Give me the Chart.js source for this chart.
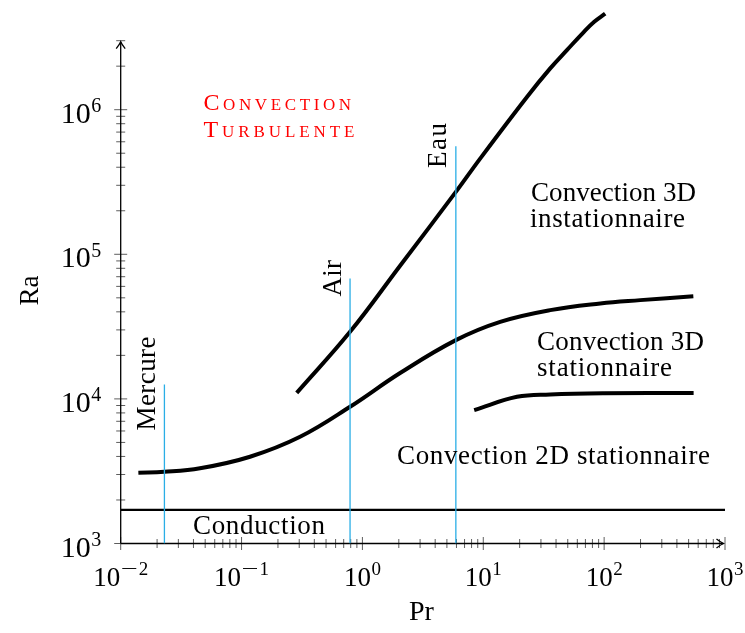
<!DOCTYPE html>
<html>
<head>
<meta charset="utf-8">
<script src="https://cdn.jsdelivr.net/npm/chart.js@4.4.1/dist/chart.umd.min.js"></script>
<style>
  html, body { margin: 0; padding: 0; background: #fff; }
  #wrap { width: 745px; height: 633px; }
</style>
</head>
<body>
<div id="wrap"><canvas id="c" width="745" height="633"></canvas></div>
<script>
// Axis ranges (Prandtl number on x, Rayleigh number on y)
const prRange = [0.01, 1000];
const raRange = [1000, 3e6];

// Tick label exponents (10^n)
const xTickExps = [-2, -1, 0, 1, 2, 3];
const yTickExps = [3, 4, 5, 6];

// Conduction threshold
const conductionRa = 1708;

// Reference fluids: vertical markers
const fluidNames = ['Mercure', 'Air', 'Eau'];
const fluidPr = [0.023, 0.79, 5.93];
const fluidTopRa = [12600, 68100, 558000];

// Boundary: conduction -> 3D stationary convection
const onsetPr = [0.014, 0.023, 0.0453, 0.1175, 0.305, 0.79, 2.05, 5.93, 13.8, 35.8, 92.9, 199, 547];
const onsetRa = [3090, 3130, 3310, 3980, 5470, 8820, 15100, 25500, 34100, 41100, 45700, 48200, 51300];

// Boundary: stationary -> turbulent convection
const turbPr = [0.286, 0.79, 2.05, 5.93, 9.42, 22.9, 35.8, 49.2, 67.5, 82.8, 102];
const turbRa = [11000, 29100, 83400, 270000, 459000, 1220000, 1930000, 2580000, 3430000, 4050000, 4610000];

// Boundary: 2D stationary -> 3D stationary convection
const rollsPr = [8.41, 19, 35.8, 100, 550];
const rollsRa = [8370, 10340, 10740, 10950, 11000];

const SERIF = '"Liberation Serif", "DejaVu Serif", serif';
const BLUE = '#2aaee6';

const toPoints = (xs, ys) => xs.map((v, i) => ({ x: v, y: ys[i] }));

const datasets = [];
fluidNames.forEach((name, i) => {
  datasets.push({
    label: name,
    data: [{ x: fluidPr[i], y: raRange[0] }, { x: fluidPr[i], y: fluidTopRa[i] }],
    borderColor: BLUE, borderWidth: 1.3, showLine: true, pointRadius: 0, order: 0
  });
});
datasets.push({
  label: 'Conduction',
  data: [{ x: prRange[0], y: conductionRa }, { x: prRange[1], y: conductionRa }],
  borderColor: '#000', borderWidth: 2.2, showLine: true, pointRadius: 0, order: 1
});
[[onsetPr, onsetRa], [turbPr, turbRa], [rollsPr, rollsRa]].forEach(([xs, ys]) => {
  datasets.push({
    data: toPoints(xs, ys),
    borderColor: '#000', borderWidth: 4, showLine: true, pointRadius: 0,
    tension: 0.4, clip: false, order: 1
  });
});

// Draws "10" with a raised exponent
function drawPower(ctx, exp, x, y, o) {
  const baseFont = o.base + 'px ' + SERIF;
  const supFont = o.sup + 'px ' + SERIF;
  ctx.font = baseFont;
  const wBase = ctx.measureText('10').width;
  ctx.font = supFont;
  const digits = String(Math.abs(exp));
  const wDig = ctx.measureText(digits).width;
  const minusW = exp < 0 ? o.minusW : 0;
  const gap = exp < 0 ? 1.5 : 0.5;
  const total = wBase + minusW + gap + wDig;
  let sx = o.align === 'right' ? x - total : x - total / 2;
  ctx.textAlign = 'left';
  ctx.textBaseline = 'alphabetic';
  ctx.font = baseFont;
  ctx.fillText('10', sx, y);
  sx += wBase + 0.5;
  ctx.font = supFont;
  if (exp < 0) {
    const mw = ctx.measureText('\u2212').width;
    ctx.save();
    ctx.translate(sx, y - o.raise);
    ctx.scale(minusW / mw, 1);
    ctx.fillText('\u2212', 0, 0);
    ctx.restore();
    sx += minusW + gap - 0.5;
  }
  ctx.fillText(digits, sx, y - o.raise);
}

// Writes a string letter by letter, spread to a given overall width
function drawSpread(ctx, text, x, y, width) {
  const ws = [...text].map(ch => ctx.measureText(ch).width);
  const natural = ws.reduce((a, b) => a + b, 0);
  const track = text.length > 1 ? (width - natural) / (text.length - 1) : 0;
  let cx = x;
  [...text].forEach((ch, i) => {
    ctx.fillText(ch, cx, y);
    cx += ws[i] + track;
  });
}

// Small caps heading: large initial, tracked smaller capitals
function drawSmallCaps(ctx, word, x, y, bigSize, smallSize, track) {
  let cx = x;
  for (let i = 0; i < word.length; i++) {
    ctx.font = (i === 0 ? bigSize : smallSize) + 'px ' + SERIF;
    ctx.fillText(word[i], cx, y);
    cx += ctx.measureText(word[i]).width + track;
  }
}

const axesPlugin = {
  id: 'logAxes',
  beforeDatasetsDraw(chart) {
    const { ctx } = chart;
    const xs = chart.scales.x, ys = chart.scales.y;
    const x0 = xs.getPixelForValue(prRange[0]), x1 = xs.getPixelForValue(prRange[1]);
    const y0 = ys.getPixelForValue(raRange[0]), y1 = ys.getPixelForValue(raRange[1]);
    ctx.save();
    // tick marks straddling the axes
    ctx.strokeStyle = '#5e5e5e';
    ctx.lineWidth = 1;
    ctx.beginPath();
    for (let e = -2; e <= 3; e++) {
      for (let m = 1; m <= 9; m++) {
        const v = m * Math.pow(10, e);
        if (v > prRange[1] * 1.0001) break;
        const px = xs.getPixelForValue(v);
        const len = m === 1 ? 6.5 : 4.5;
        ctx.moveTo(px, y0 - len); ctx.lineTo(px, y0 + len);
      }
    }
    for (let e = 3; e <= 6; e++) {
      for (let m = 1; m <= 9; m++) {
        const v = m * Math.pow(10, e);
        if (v > raRange[1] * 1.0001) break;
        const py = ys.getPixelForValue(v);
        const len = m === 1 ? 6.5 : 4.5;
        ctx.moveTo(x0 - len, py); ctx.lineTo(x0 + len, py);
      }
    }
    ctx.stroke();
    // axis lines with arrow heads
    ctx.strokeStyle = '#000';
    ctx.lineWidth = 1.3;
    ctx.beginPath();
    ctx.moveTo(x0, y0); ctx.lineTo(x1 - 1.5, y0);
    ctx.moveTo(x0, y0); ctx.lineTo(x0, y1 + 1);
    ctx.stroke();
    ctx.beginPath();
    ctx.moveTo(x1 - 8.5, y0 - 4.5); ctx.quadraticCurveTo(x1 - 4, y0 - 1, x1 - 1.5, y0);
    ctx.quadraticCurveTo(x1 - 4, y0 + 1, x1 - 8.5, y0 + 4.5);
    ctx.moveTo(x0 - 4.5, y1 + 8); ctx.quadraticCurveTo(x0 - 1, y1 + 3.5, x0, y1 + 1);
    ctx.quadraticCurveTo(x0 + 1, y1 + 3.5, x0 + 4.5, y1 + 8);
    ctx.stroke();
    ctx.restore();
  },
  afterDatasetsDraw(chart) {
    const { ctx } = chart;
    const xs = chart.scales.x, ys = chart.scales.y;
    const y0 = ys.getPixelForValue(raRange[0]);
    const x0 = xs.getPixelForValue(prRange[0]);
    ctx.save();
    ctx.fillStyle = '#000';
    // tick labels
    xTickExps.forEach(e => {
      drawPower(ctx, e, xs.getPixelForValue(Math.pow(10, e)), y0 + 42.5,
        { base: 27, sup: 19, raise: 11, minusW: 17, align: 'center' });
    });
    yTickExps.forEach(e => {
      drawPower(ctx, e, x0 - 19.5, ys.getPixelForValue(Math.pow(10, e)) + 13,
        { base: 30, sup: 20, raise: 10.6, minusW: 16, align: 'right' });
    });
    // axis titles
    ctx.font = '28px ' + SERIF;
    ctx.textAlign = 'center';
    ctx.textBaseline = 'alphabetic';
    ctx.fillText('Pr', 421.5, 620);
    ctx.save();
    ctx.translate(37.5, 290.5);
    ctx.rotate(-Math.PI / 2);
    ctx.font = '27px ' + SERIF;
    ctx.fillText('Ra', 0, 0);
    ctx.restore();

    // regime labels
    ctx.textAlign = 'left';
    ctx.font = '27px ' + SERIF;
    drawSpread(ctx, 'Convection 3D', 531, 200.5, 165);
    drawSpread(ctx, 'instationnaire', 530, 226.5, 155);
    drawSpread(ctx, 'Convection 3D', 537, 350, 167);
    drawSpread(ctx, 'stationnaire', 537, 375.5, 135);
    drawSpread(ctx, 'Convection 2D stationnaire', 397, 464, 313);
    drawSpread(ctx, 'Conduction', 193, 534, 132);

    // fluid names, written upwards beside their markers
    const fluidTextStart = [430.5, 296.5, 168];
    const fluidTextLen = [94, 36.5, 45];
    fluidNames.forEach((name, i) => {
      const px = xs.getPixelForValue(fluidPr[i]) - 9.5;
      ctx.save();
      ctx.translate(px, fluidTextStart[i]);
      ctx.rotate(-Math.PI / 2);
      ctx.textAlign = 'left';
      drawSpread(ctx, name, 0, 0, fluidTextLen[i]);
      ctx.restore();
    });

    // turbulent regime heading in small caps
    ctx.fillStyle = '#ff0000';
    drawSmallCaps(ctx, 'CONVECTION', 203.5, 110, 24, 17, 3.6);
    drawSmallCaps(ctx, 'TURBULENTE', 203.5, 137, 24, 17, 3.9);
    ctx.restore();
  }
};

new Chart(document.getElementById('c'), {
  type: 'scatter',
  data: { datasets },
  options: {
    responsive: false,
    animation: false,
    devicePixelRatio: 1,
    layout: { padding: { left: 120.7, right: 20, top: 40.7, bottom: 89.5 } },
    scales: {
      x: { type: 'logarithmic', min: prRange[0], max: prRange[1], display: false },
      y: { type: 'logarithmic', min: raRange[0], max: raRange[1], display: false }
    },
    plugins: { legend: { display: false }, tooltip: { enabled: false } },
    elements: { point: { radius: 0 } }
  },
  plugins: [axesPlugin]
});
</script>
</body>
</html>
